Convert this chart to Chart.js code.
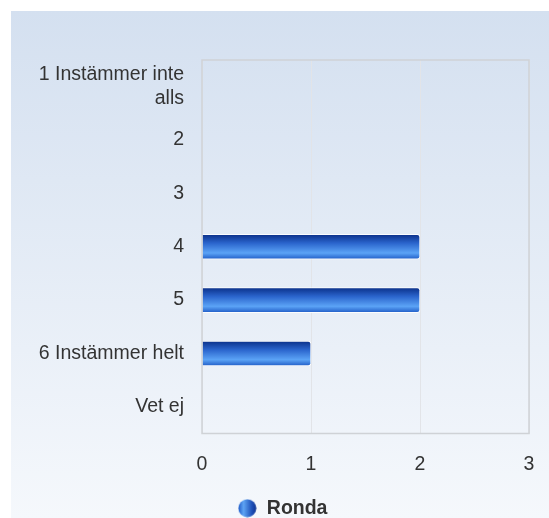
<!DOCTYPE html>
<html>
<head>
<meta charset="utf-8">
<script src="https://cdn.jsdelivr.net/npm/chart.js@4/dist/chart.umd.min.js"></script>
<style>
  html, body { margin: 0; padding: 0; background: #fff; }
  #wrap { width: 549px; height: 518px; position: relative; }
</style>
</head>
<body>
<div id="wrap"><canvas id="chart_1"></canvas></div>
<script>
const categories = [['1 Instämmer inte', 'alls'], '2', '3', '4', '5', '6 Instämmer helt', 'Vet ej'];
const rondaValues = [0, 0, 0, 2, 2, 1, 0];
const xTicks = [0, 1, 2, 3];
const seriesName = 'Ronda';

const ctx = document.getElementById('chart_1');
const BAR_H = 25;
const FONT = 'Liberation Sans, Arial, sans-serif';

// small sphere-like marker for the legend
const marker = document.createElement('canvas');
marker.width = 19; marker.height = 19;
(function () {
    const m = marker.getContext('2d');
    const g = m.createLinearGradient(0, 0, 19, 0);
    g.addColorStop(0, '#1b55c4');
    g.addColorStop(0.3, '#5ea4f4');
    g.addColorStop(0.75, '#1d4fb8');
    g.addColorStop(1, '#0c2f8a');
    m.fillStyle = g;
    m.beginPath();
    m.arc(9.5, 9.5, 9, 0, Math.PI * 2);
    m.fill();
})();

function barGradient(context) {
    const chart = context.chart;
    const y = chart.scales.y;
    if (!y || context.dataIndex === undefined) return '#2a6ad8';
    const c = y.getPixelForValue(context.dataIndex);
    if (!isFinite(c)) return '#2a6ad8';
    const g = chart.ctx.createLinearGradient(0, c - BAR_H / 2, 0, c + BAR_H / 2);
    g.addColorStop(0, '#0a2f88');
    g.addColorStop(0.35, '#2a64cc');
    g.addColorStop(0.75, '#5ba3f6');
    g.addColorStop(1, '#1f5cc6');
    return g;
}

const background = {
    id: 'background',
    beforeDraw(chart) {
        const c = chart.ctx;
        const g = c.createLinearGradient(0, 11, 0, 518);
        g.addColorStop(0, '#d4e0f0');
        g.addColorStop(1, '#f5f8fc');
        c.save();
        c.fillStyle = g;
        c.fillRect(11, 11, chart.width - 11, chart.height - 11);
        c.restore();
    },
    afterDatasetsDraw(chart) {
        const a = chart.chartArea;
        const c = chart.ctx;
        c.save();
        c.strokeStyle = '#cfd2d6';
        c.lineWidth = 1.5;
        c.strokeRect(a.left, a.top, a.right - a.left, a.bottom - a.top);
        c.restore();
    }
};

new Chart(ctx, {
    type: 'bar',
    data: {
        labels: categories,
        datasets: [{
            label: seriesName,
            data: rondaValues,
            backgroundColor: barGradient,
            borderColor: 'rgba(255,255,255,0.85)',
            borderWidth: 1,
            borderRadius: 3,
            barThickness: BAR_H,
            pointStyle: marker
        }]
    },
    plugins: [background],
    options: {
        indexAxis: 'y',
        responsive: true,
        maintainAspectRatio: false,
        animation: false,
        layout: {
            padding: { top: 60, right: 20, left: 36, bottom: -10 }
        },
        scales: {
            x: {
                min: 0,
                max: 3,
                afterBuildTicks: (axis) => {
                    axis.ticks = xTicks.map(v => ({ value: v }));
                },
                grid: { color: '#e2e4e8', drawTicks: false },
                border: { display: false },
                ticks: {
                    color: '#333',
                    padding: 19,
                    font: { family: FONT, size: 19.5 }
                },
                afterFit: (axis) => {
                    axis.height = 64;
                    axis.paddingLeft = 0;
                    axis.paddingRight = 0;
                }
            },
            y: {
                grid: { display: false, drawTicks: false },
                border: { display: false },
                ticks: {
                    color: '#333',
                    padding: 18,
                    font: { family: FONT, size: 19.5 }
                },
                afterFit: (axis) => {
                    axis.width = 166;
                    axis.paddingTop = 0;
                    axis.paddingBottom = 0;
                }
            }
        },
        plugins: {
            legend: {
                position: 'bottom',
                labels: {
                    usePointStyle: true,
                    color: '#333',
                    padding: 1,
                    font: { family: FONT, size: 19.5, weight: 'bold' }
                }
            },
            tooltip: { enabled: false }
        }
    }
});
</script>
</body>
</html>
